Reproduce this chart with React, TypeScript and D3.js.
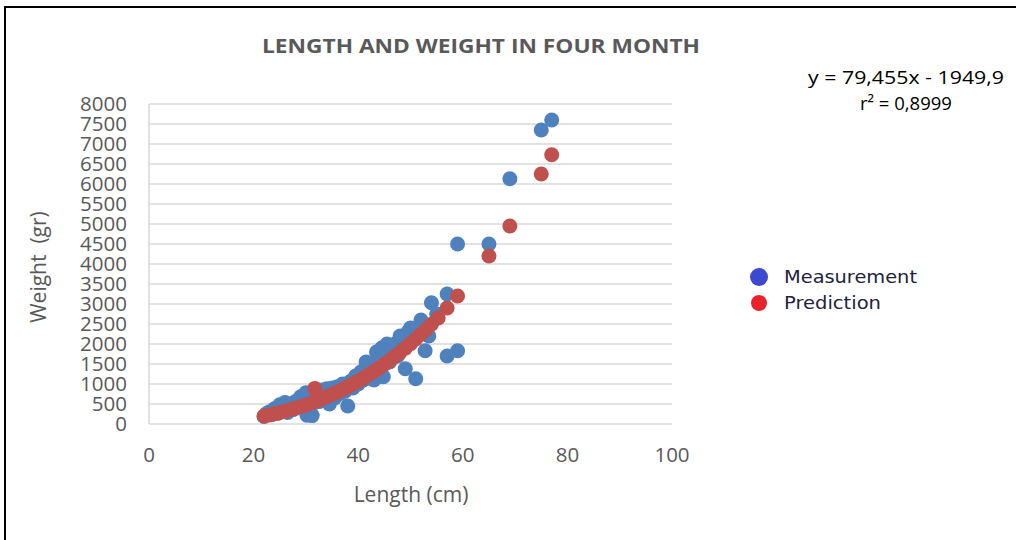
import React from "react";
import * as d3 from "d3";

// Measured fish: length (cm) and weight (gr)
const measuredLength = [
  22.0, 22.5, 23.0, 23.5, 24.0, 24.5, 25.0, 25.5, 26.0, 26.5, 27.0, 27.5, 28.0, 28.5,
  29.0, 29.5, 30.0, 30.2, 30.8, 31.2, 31.5, 32.0, 32.5, 33.0, 33.5, 34.0, 34.5, 35.0,
  35.5, 36.0, 36.5, 37.0, 37.5, 38.0, 38.5, 39.0, 39.5, 40.0, 40.5, 41.0, 41.5, 42.0,
  42.5, 43.0, 43.5, 44.0, 44.5, 44.8, 45.0, 45.5, 46.0, 46.5, 47.0, 47.5, 48.0, 48.5,
  49.0, 49.5, 50.0, 50.5, 51.0, 51.5, 52.0, 52.5, 52.8, 53.5, 54.0, 55.0, 57.0, 57.0,
  59.0, 59.0, 65.0, 69.0, 75.0, 77.0,
];
const measuredWeight = [
  190, 260, 300, 230, 380, 260, 480, 330, 540, 290, 460, 360, 560, 420,
  680, 500, 780, 220, 380, 210, 700, 820, 560, 850, 640, 880, 500, 900,
  650, 930, 760, 1000, 820, 450, 1060, 900, 1200, 1000, 1300, 1100, 1550, 1250,
  1500, 1100, 1800, 1350, 1900, 1180, 1650, 2000, 1550, 1850, 2000, 1700, 2200, 1950,
  1380, 2300, 2400, 2100, 1130, 2350, 2600, 2400, 1830, 2200, 3030, 2750, 3250, 1700,
  1830, 4500, 4500, 6130, 7350, 7600,
];

// Predicted weight for each length
const predictedLength = [
  22, 23, 24, 25, 26, 27, 28, 29, 30, 31, 31.7, 32, 33, 34, 35, 36, 37, 38, 39, 40,
  41, 42, 43, 44, 45, 46, 47, 48, 49, 50, 51, 52, 53, 54, 55.3, 57, 59, 65, 69, 75, 77,
];
const predictedWeight = [
  200, 227, 255, 286, 320, 356, 394, 435, 478, 524, 890, 573, 625, 680, 737, 798, 862, 929, 999, 1073,
  1150, 1231, 1315, 1402, 1494, 1589, 1688, 1791, 1898, 2009, 2124, 2243, 2366, 2494, 2650, 2900, 3200, 4200, 4950, 6250, 6730,
];

const yTicks = d3.range(0, 8001, 500);
const xTicks = [0, 20, 40, 60, 80, 100];

const chartTitle = "LENGTH AND WEIGHT IN FOUR MONTH";
const equationText = "y = 79,455x - 1949,9";
const rSquaredText = "r² = 0,8999";
const legendItems = [
  { label: "Measurement", color: "#3c48cf", width: 133 },
  { label: "Prediction", color: "#e8232b", width: 97 },
];

const W = 1016;
const H = 540;
const labelFont = "'Open Sans', 'Liberation Sans', sans-serif";

export default function App() {
  const x = d3.scaleLinear().domain([0, 100]).range([149, 672]);
  const y = d3.scaleLinear().domain([0, 8000]).range([424, 104]);
  const grey = "#595959";

  return (
    <svg
      width={W}
      height={H}
      style={{ position: "absolute", left: 0, top: 0, background: "#fff" }}
    >
      <rect x={0} y={0} width={W} height={H} fill="#fff" />
      {/* outer frame */}
      <path d={`M5,${H} V7 H${W}`} fill="none" stroke="#000" strokeWidth={2} />

      {/* gridlines */}
      {yTicks.map((t) => (
        <line
          key={"g" + t}
          x1={x(0)}
          x2={x(100)}
          y1={y(t)}
          y2={y(t)}
          stroke="#d9d9d9"
          strokeWidth={1.5}
        />
      ))}
      <line x1={x(0)} x2={x(0)} y1={y(8000)} y2={y(0)} stroke="#d9d9d9" strokeWidth={1.5} />

      {/* y tick labels */}
      {yTicks.map((t) => (
        <text
          key={"yl" + t}
          x={127}
          y={y(t)}
          dy="0.36em"
          textAnchor="end"
          fontFamily={labelFont}
          fontSize={20.5}
          fill={grey}
        >
          {t}
        </text>
      ))}
      {/* x tick labels */}
      {xTicks.map((t) => (
        <text
          key={"xl" + t}
          x={x(t)}
          y={455}
          dy="0.36em"
          textAnchor="middle"
          fontFamily={labelFont}
          fontSize={20.5}
          fill={grey}
        >
          {t}
        </text>
      ))}

      {/* axis titles */}
      <text
        x={411}
        y={494}
        dy="0.36em"
        textAnchor="middle"
        fontFamily={labelFont}
        fontSize={21}
        fill={grey}
      >
        Length (cm)
      </text>
      <text
        transform="translate(38,267) rotate(-90)"
        textAnchor="middle"
        dy="0.36em"
        fontFamily={labelFont}
        fontSize={21}
        fill={grey}
        style={{ whiteSpace: "pre" }}
      >
        {"Weight  (gr)"}
      </text>

      {/* title */}
      <text
        x={481}
        y={46}
        dy="0.36em"
        textAnchor="middle"
        fontFamily={labelFont}
        fontWeight="bold"
        fontSize={19.5}
        fill={grey}
        textLength={438}
        lengthAdjust="spacingAndGlyphs"
      >
        {chartTitle}
      </text>

      {/* trendline label */}
      <text
        x={906}
        y={77}
        dy="0.36em"
        textAnchor="middle"
        fontFamily={labelFont}
        fontSize={18.5}
        fill="#000"
        textLength={196}
        lengthAdjust="spacingAndGlyphs"
      >
        {equationText}
      </text>
      <text
        x={906}
        y={103}
        dy="0.36em"
        textAnchor="middle"
        fontFamily={labelFont}
        fontSize={18.5}
        fill="#000"
      >
        {rSquaredText}
      </text>

      {/* measurement points */}
      {measuredLength.map((l, i) => (
        <circle key={"m" + i} cx={x(l)} cy={y(measuredWeight[i])} r={7.5} fill="#4f81bd" />
      ))}
      {/* predicted points */}
      {predictedLength.map((l, i) => (
        <circle key={"p" + i} cx={x(l)} cy={y(predictedWeight[i])} r={7.5} fill="#c0504d" />
      ))}

      {/* legend */}
      {legendItems.map((item, i) => (
        <g key={item.label} transform={`translate(759,${277 + i * 26})`}>
          <circle r={i === 0 ? 9 : 8} fill={item.color} />
          <text
            x={25}
            dy="0.36em"
            fontFamily="'DejaVu Sans', Verdana, sans-serif"
            fontSize={17.5}
            fill="#22223a"
            textLength={item.width}
            lengthAdjust="spacingAndGlyphs"
          >
            {item.label}
          </text>
        </g>
      ))}
    </svg>
  );
}
